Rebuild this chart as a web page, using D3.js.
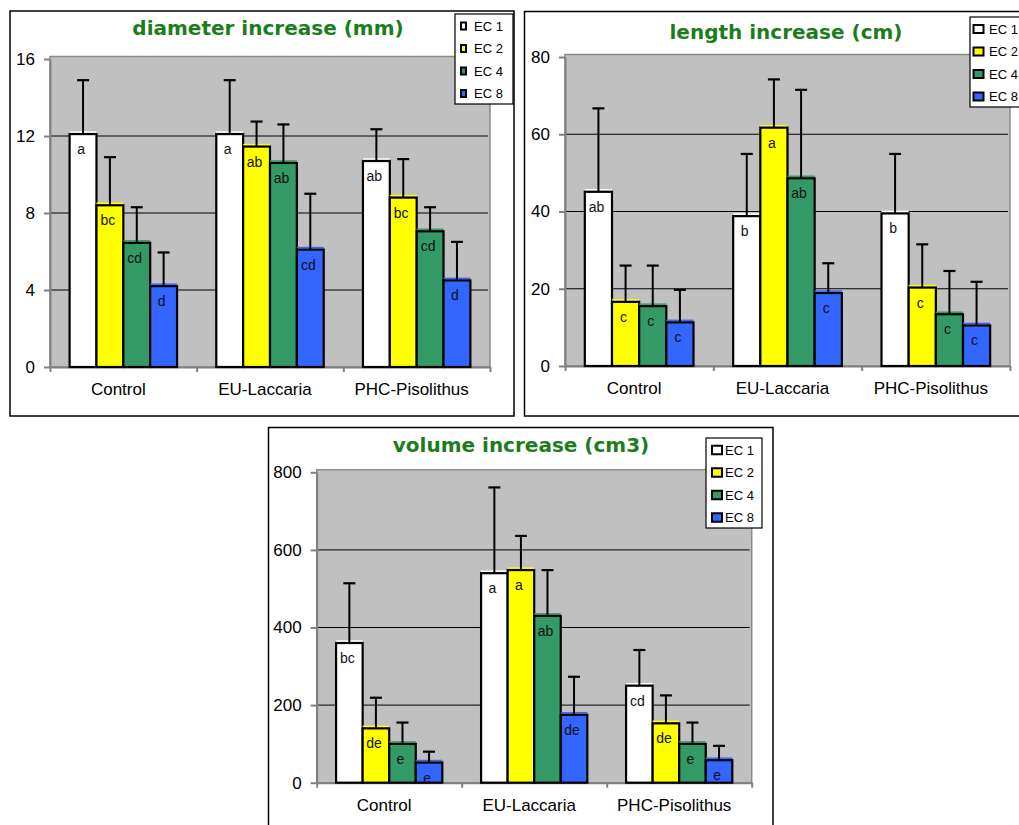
<!DOCTYPE html>
<html>
<head>
<meta charset="utf-8">
<script src="https://cdn.jsdelivr.net/npm/d3@7"></script>
<style>
body { margin: 0; background: #fff; }
svg { display: block; font-family: Arial, "Liberation Sans", sans-serif; }
</style>
</head>
<body>
<svg id="page" width="1019" height="825"></svg>
<script>
var groups = ["Control", "EU-Laccaria", "PHC-Pisolithus"];
var series = ["EC 1", "EC 2", "EC 4", "EC 8"];
var colors = ["#FFFFFF", "#FFFF00", "#339966", "#3366FF"];

// diameter increase (mm): means, sd, letters  [group][series]
var diameterMean = [[12.1, 8.4, 6.45, 4.2], [12.1, 11.45, 10.6, 6.1], [10.7, 8.8, 7.05, 4.5]];
var diameterSd = [[2.8, 2.5, 1.85, 1.75], [2.8, 1.3, 2.0, 2.9], [1.65, 2.0, 1.25, 2.0]];
var diameterLetters = [["a", "bc", "cd", "d"], ["a", "ab", "ab", "cd"], ["ab", "bc", "cd", "d"]];
var diameterTicks = [0, 4, 8, 12, 16];

// length increase (cm)
var lengthMean = [[45.1, 16.6, 15.5, 11.3], [38.8, 61.7, 48.6, 18.9], [39.5, 20.3, 13.4, 10.5]];
var lengthSd = [[21.6, 9.4, 10.5, 8.4], [16.1, 12.5, 22.9, 7.7], [15.4, 11.2, 11.2, 11.3]];
var lengthLetters = [["ab", "c", "c", "c"], ["b", "a", "ab", "c"], ["b", "c", "c", "c"]];
var lengthTicks = [0, 20, 40, 60, 80];

// volume increase (cm3)
var volumeMean = [[360, 140, 100, 52], [540, 548, 430, 175], [250, 153, 100, 58]];
var volumeSd = [[154, 79, 55, 28], [221, 88, 118, 98], [92, 72, 55, 37]];
var volumeLetters = [["bc", "de", "e", "e"], ["a", "a", "ab", "de"], ["cd", "de", "e", "e"]];
var volumeTicks = [0, 200, 400, 600, 800];

var svg = d3.select("#page");

function drawChart(opt) {
	var g = svg.append("g");

	// outer frame
	g.append("rect")
		.attr("x", opt.frame[0]).attr("y", opt.frame[1])
		.attr("width", opt.frame[2]).attr("height", opt.frame[3])
		.attr("fill", "#fff").attr("stroke", "#000").attr("stroke-width", 1.5);

	var ymax = opt.ticks[opt.ticks.length - 1];
	var y = d3.scaleLinear().domain([0, ymax]).range([opt.plot[3], opt.plot[1]]);
	var x0 = d3.scaleBand().domain(groups).range([opt.plot[0], opt.plot[2]]);
	var x1 = d3.scaleBand().domain(series).range([0, x0.bandwidth()]).paddingOuter(0.73);

	// grey plot area
	g.append("rect")
		.attr("x", opt.plot[0]).attr("y", y(ymax) - 2.5)
		.attr("width", opt.plot[2] - opt.plot[0]).attr("height", y(0) - y(ymax) + 2.5)
		.attr("fill", "#C0C0C0").attr("stroke", "#8a8a8a").attr("stroke-width", 1.5);

	// gridlines
	g.selectAll(".grid").data(opt.ticks.slice(1, -1)).enter().append("line")
		.attr("x1", opt.plot[0]).attr("x2", opt.plot[2] - 2)
		.attr("y1", function(d) { return y(d); }).attr("y2", function(d) { return y(d); })
		.attr("stroke", "#000").attr("stroke-width", 1);

	// y axis
	var yaxis = d3.axisLeft(y).tickValues(opt.ticks).tickSize(6).tickSizeOuter(0).tickPadding(9);
	var ya = g.append("g").attr("transform", "translate(" + opt.plot[0] + ",0)").call(yaxis);
	ya.selectAll("path, line").attr("stroke", "#808080").attr("stroke-width", 2);
	ya.selectAll("text").attr("font-size", 17).attr("fill", "#000")
		.attr("font-family", "Arial, 'Liberation Sans', sans-serif");

	// x axis with ticks at group boundaries
	var xb = d3.scaleLinear().domain([0, groups.length]).range([opt.plot[0], opt.plot[2]]);
	var xaxis = d3.axisBottom(xb).tickValues(d3.range(groups.length + 1)).tickFormat("").tickSize(5).tickSizeOuter(0);
	var xa = g.append("g").attr("transform", "translate(0," + y(0) + ")").call(xaxis);
	xa.selectAll("path, line").attr("stroke", "#808080").attr("stroke-width", 2);

	g.selectAll(".cat").data(groups).enter().append("text")
		.attr("x", function(d) { return x0(d) + x0.bandwidth() / 2 - 5; })
		.attr("y", y(0) + 28)
		.attr("text-anchor", "middle")
		.attr("font-size", 17)
		.text(function(d) { return d; });

	// bars
	var cells = [];
	groups.forEach(function(gr, i) {
		series.forEach(function(s, j) {
			cells.push({ g: gr, s: s, j: j, v: opt.mean[i][j], sd: opt.sd[i][j], lab: opt.letters[i][j] });
		});
	});

	var bw = x1.bandwidth();
	var bar = g.selectAll(".bar").data(cells).enter().append("g");

	bar.append("line")
		.attr("x1", function(d) { return x0(d.g) + x1(d.s); })
		.attr("x2", function(d) { return x0(d.g) + x1(d.s) + bw; })
		.attr("y1", function(d) { return y(d.v) - 2; })
		.attr("y2", function(d) { return y(d.v) - 2; })
		.attr("stroke", function(d) { return colors[d.j]; })
		.attr("stroke-width", 1.5);

	bar.append("rect")
		.attr("x", function(d) { return x0(d.g) + x1(d.s); })
		.attr("y", function(d) { return y(d.v); })
		.attr("width", bw)
		.attr("height", function(d) { return y(0) - y(d.v); })
		.attr("fill", function(d) { return colors[d.j]; })
		.attr("stroke", "#000").attr("stroke-width", 2.2);

	// error bars (upper only)
	bar.append("line")
		.attr("x1", function(d) { return x0(d.g) + x1(d.s) + bw / 2; })
		.attr("x2", function(d) { return x0(d.g) + x1(d.s) + bw / 2; })
		.attr("y1", function(d) { return y(d.v); })
		.attr("y2", function(d) { return y(d.v + d.sd); })
		.attr("stroke", "#000").attr("stroke-width", 2);
	bar.append("line")
		.attr("x1", function(d) { return x0(d.g) + x1(d.s) + bw / 2 - 6; })
		.attr("x2", function(d) { return x0(d.g) + x1(d.s) + bw / 2 + 6; })
		.attr("y1", function(d) { return y(d.v + d.sd); })
		.attr("y2", function(d) { return y(d.v + d.sd); })
		.attr("stroke", "#000").attr("stroke-width", 2.2);

	// significance letters
	bar.append("text")
		.attr("x", function(d) { return x0(d.g) + x1(d.s) + bw / 2 - 2; })
		.attr("y", function(d) { return y(d.v) + 20; })
		.attr("text-anchor", "middle")
		.attr("font-size", 14)
		.attr("fill", "#111")
		.text(function(d) { return d.lab; });

	// title
	g.append("text")
		.attr("x", opt.title[1]).attr("y", opt.title[2])
		.attr("text-anchor", "middle")
		.attr("font-family", "'DejaVu Sans', Verdana, sans-serif")
		.attr("font-weight", "bold")
		.attr("font-size", 20)
		.attr("fill", "#1B7D1B")
		.text(opt.title[0]);

	// legend
	var lg = g.append("g").attr("transform", "translate(" + opt.legend[0] + "," + opt.legend[1] + ")");
	lg.append("rect").attr("width", opt.legend[2]).attr("height", 90)
		.attr("fill", "#fff").attr("stroke", "#000").attr("stroke-width", 1.2);
	var item = lg.selectAll(".item").data(series).enter().append("g")
		.attr("transform", function(d, i) { return "translate(0," + (12 + i * 22.5) + ")"; });
	item.append("rect")
		.attr("x", opt.swatch[0]).attr("y", -opt.swatch[2] / 2)
		.attr("width", opt.swatch[1]).attr("height", opt.swatch[2])
		.attr("fill", function(d, i) { return colors[i]; })
		.attr("stroke", "#000").attr("stroke-width", 2);
	item.append("text")
		.attr("x", 19).attr("dy", "0.35em")
		.attr("font-size", 13)
		.text(function(d) { return d; });
}

drawChart({
	frame: [10, 11, 504, 405],
	plot: [50, 59, 490, 367],
	ticks: diameterTicks,
	mean: diameterMean, sd: diameterSd, letters: diameterLetters,
	title: ["diameter increase (mm)", 268, 35],
	legend: [455, 14, 58],
	swatch: [6, 5, 7]
});

drawChart({
	frame: [524.5, 11.5, 520, 404.5],
	plot: [565, 57, 1010, 366],
	ticks: lengthTicks,
	mean: lengthMean, sd: lengthSd, letters: lengthLetters,
	title: ["length increase (cm)", 786, 38.5],
	legend: [970, 17, 60],
	swatch: [3.5, 10, 8]
});

drawChart({
	frame: [268.5, 427.5, 504.5, 420],
	plot: [316.7, 472.3, 751.7, 782.7],
	ticks: volumeTicks,
	mean: volumeMean, sd: volumeSd, letters: volumeLetters,
	title: ["volume increase (cm3)", 521, 452],
	legend: [706, 438, 56],
	swatch: [6, 10, 8.5]
});
</script>
</body>
</html>
